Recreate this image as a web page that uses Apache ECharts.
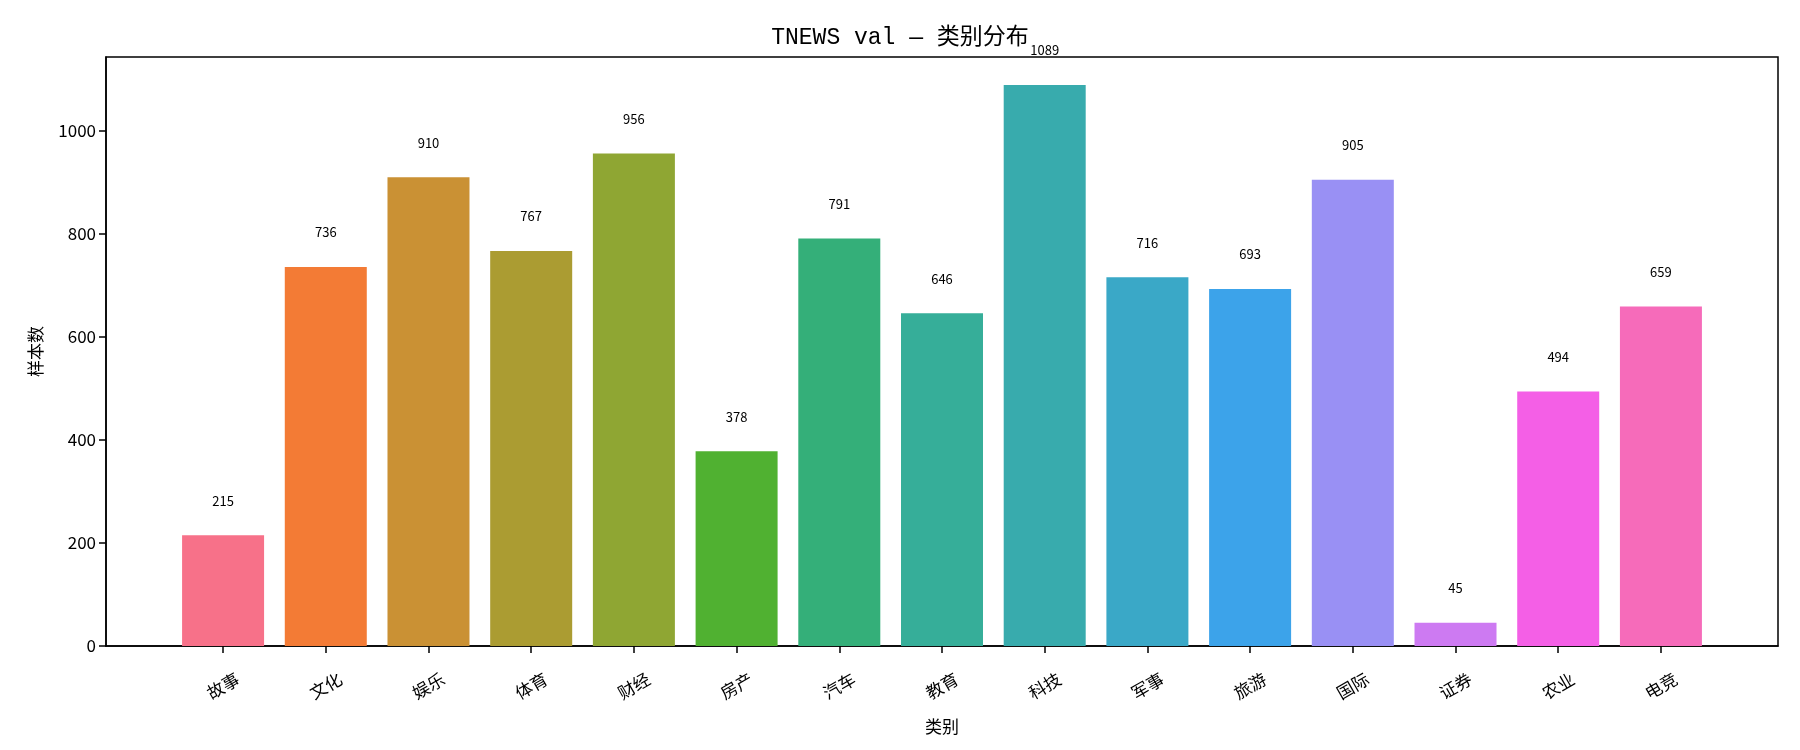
<!DOCTYPE html>
<html>
<head>
<meta charset="utf-8">
<script src="https://cdn.jsdelivr.net/npm/echarts@6/dist/echarts.min.js"></script>
<style>
  html, body { margin: 0; padding: 0; background: #fff; }
  #chart { width: 1800px; height: 750px; }
</style>
</head>
<body>
<div id="chart"></div>
<script>
var categories = ['故事', '文化', '娱乐', '体育', '财经', '房产', '汽车', '教育', '科技', '军事', '旅游', '国际', '证券', '农业', '电竞'];
var counts = [215, 736, 910, 767, 956, 378, 791, 646, 1089, 716, 693, 905, 45, 494, 659];
var barColors = ['#f77189', '#f37b35', '#ca9134', '#ab9c32', '#8fa633', '#50b131', '#34af79', '#36ae99', '#38abad', '#3aa8c7', '#3ca3ea', '#9990f4', '#cd7af2', '#f45fe6', '#f66bba'];
var yTicks = [0, 200, 400, 600, 800, 1000];

var font = '"Noto Sans CJK SC", "DejaVu Sans", sans-serif';
var titleFont = '"Liberation Mono", "Noto Sans CJK SC", monospace';
var chart = echarts.init(document.getElementById('chart'));

var barData = counts.map(function (v, i) {
    return { value: [i, v], itemStyle: { color: barColors[i] } };
});

var option = {
    animation: false,
    title: {
        text: 'TNEWS val — 类别分布',
        left: 'center',
        top: 21,
        textStyle: { fontFamily: titleFont, fontSize: 23, fontWeight: 'normal', color: '#000' }
    },
    grid: {
        left: 106, right: 22, top: 57, bottom: 104,
        show: true, borderColor: '#000', borderWidth: 1.5
    },
    xAxis: {
        type: 'value',
        min: -1.14,
        max: 15.14,
        name: '类别',
        nameLocation: 'middle',
        nameGap: 72,
        nameTextStyle: { fontFamily: font, fontSize: 17, color: '#000' },
        splitLine: { show: false },
        axisLine: { show: true, onZero: false, lineStyle: { color: '#000', width: 1.5 } },
        axisTick: {
            show: true, length: 7, lineStyle: { color: '#000', width: 1.5 },
            customValues: categories.map(function (c, i) { return i; })
        },
        axisLabel: {
            rotate: 30,
            align: 'center',
            verticalAlign: 'middle',
            margin: 40,
            fontFamily: font, fontSize: 17, color: '#000',
            customValues: categories.map(function (c, i) { return i; }),
            formatter: function (v) { return categories[Math.round(v)] || ''; }
        }
    },
    yAxis: {
        type: 'value',
        min: 0,
        max: 1143.45,
        name: '样本数',
        nameLocation: 'middle',
        nameGap: 62,
        nameTextStyle: { fontFamily: font, fontSize: 17, color: '#000' },
        splitLine: { show: false },
        axisLine: { show: true, onZero: false, lineStyle: { color: '#000', width: 1.5 } },
        axisTick: {
            show: true, length: 7, lineStyle: { color: '#000', width: 1.5 },
            customValues: yTicks
        },
        axisLabel: {
            fontFamily: font, fontSize: 17, color: '#000', margin: 10,
            customValues: yTicks,
            formatter: function (v) { return String(v); }
        }
    },
    series: [{
        type: 'bar',
        barWidth: 82,
        data: barData,
        label: {
            show: true,
            position: 'top',
            distance: 28,
            fontFamily: font,
            fontSize: 13,
            color: '#000',
            formatter: function (p) { return p.value[1]; }
        }
    }]
};

chart.setOption(option);
</script>
</body>
</html>
